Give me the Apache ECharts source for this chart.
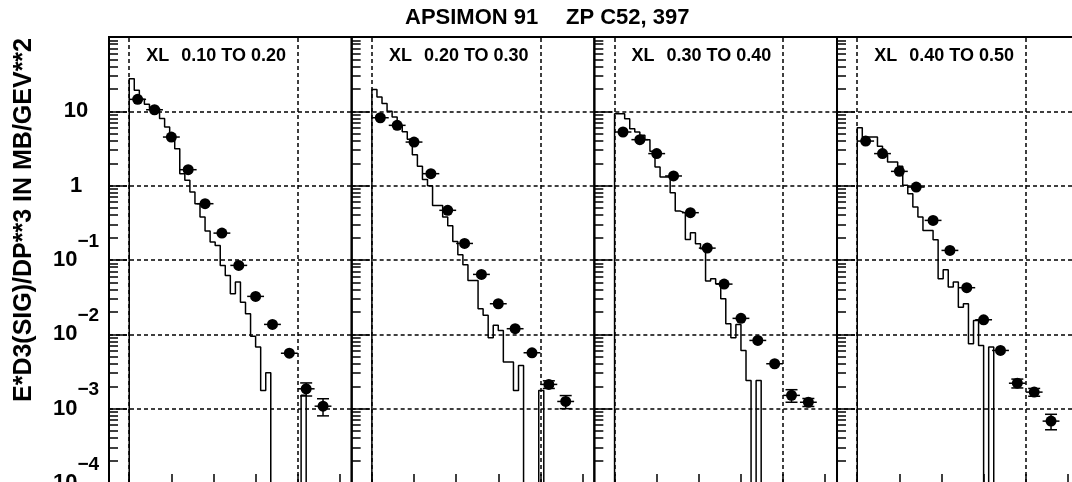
<!DOCTYPE html>
<html>
<head>
<meta charset="utf-8">
<script src="https://cdn.jsdelivr.net/npm/echarts@6/dist/echarts.min.js"></script>
<style>
  html, body { margin: 0; padding: 0; background: #fff; }
  #chart { width: 1072px; height: 482px; }
</style>
</head>
<body>
<div id="chart"></div>
<script>
// ---- texts ----
const TITLE_LEFT = 'APSIMON 91';
const TITLE_RIGHT = 'ZP C52, 397';
const Y_NAME = 'E*D3(SIG)/DP**3 IN MB/GEV**2';
const XL_NAME = 'XL';
const XL_RANGES = ['0.10 TO 0.20', '0.20 TO 0.30', '0.30 TO 0.40', '0.40 TO 0.50'];

// ---- axes ----
const X_TICKS = [0, 0.5, 1, 1.5, 2, 2.5];
const X_GRID = [0, 2];
const Y_MIN = 1e-4;
const Y_MAX = 100;

// ---- measured points: pT (GeV/c), cross section, error ----
const PT = [0.1, 0.3, 0.5, 0.7, 0.9, 1.1, 1.3, 1.5, 1.7, 1.9, 2.1, 2.3];
const PT_HALF = 0.1;

const meas1 = [14.5, 10.5, 4.51, 1.64, 0.572, 0.230, 0.0846, 0.0324, 0.0136, 0.00557, 0.00185, 0.00108];
const err1  = [0, 0, 0, 0, 0, 0, 0, 0, 0, 0, 0.00037, 0.00028];

const meas2 = [8.2, 6.48, 3.86, 1.45, 0.466, 0.167, 0.064, 0.0258, 0.0119, 0.00565, 0.00212, 0.00125];
const err2  = [0, 0, 0, 0, 0, 0, 0, 0, 0, 0, 0.00025, 0.00025];

const meas3 = [5.27, 4.16, 2.70, 1.35, 0.433, 0.1445, 0.0474, 0.0164, 0.00828, 0.00402, 0.00151, 0.00122];
const err3  = [0, 0, 0, 0, 0, 0, 0, 0, 0, 0, 0.00029, 0.00015];

const meas4 = [3.98, 2.70, 1.557, 0.958, 0.341, 0.1346, 0.0424, 0.0157, 0.00607, 0.0022, 0.00167, 0.00068];
const err4  = [0, 0, 0, 0, 0, 0, 0, 0, 0, 0.0003, 0.0002, 0.00016];

// ---- model histograms: bins of 0.06 GeV/c starting at pT = 0 (0 = empty bin) ----
const BIN_WIDTH = 0.06;

const hist1 = [27.5, 19.2, 14.5, 12.5, 10.9, 10.9, 8.0, 6.15, 4.5, 3.15,
               1.45, 1.18, 0.82, 0.573, 0.378, 0.245, 0.174, 0.157, 0.0846, 0.062,
               0.0352, 0.0505, 0.0271, 0.0189, 0.00946, 0.00673, 0.00176, 0.00304, 0, 0,
               0, 0, 0, 0, 0.00151];

const hist2 = [19.6, 15.6, 12.7, 10, 8.4, 6.5, 5.3, 4.2, 2.6, 1.82,
               1.215, 1.0, 0.543, 0.543, 0.378, 0.29, 0.178, 0.118, 0.0865, 0.0531,
               0.0531, 0.0221, 0.018, 0.009, 0.0132, 0.0113, 0.00423, 0.00423, 0.00176, 0.00381,
               0, 0, 0, 0.00176];

const hist3 = [9.3, 9.3, 7.97, 5.85, 5.27, 4.75, 4.16, 2.9, 1.78, 1.305,
               1.305, 0.805, 0.455, 0.43, 0.189, 0.233, 0.166, 0.142, 0.052, 0.056,
               0.048, 0.030, 0.0139, 0.009, 0.0136, 0.00607, 0.0024, 0, 0.0024];

const hist4 = [6.03, 4.51, 4.51, 4.51, 3.4, 2.6, 2.08, 2.08, 1.82, 1.01,
               0.78, 0.515, 0.378, 0.25, 0.25, 0.1876, 0.056, 0.074, 0.0432, 0.0504,
               0.0232, 0.0258, 0.00747, 0.0154, 0.0071, 0, 0.00673];

const PANELS = [
  { meas: meas1, err: err1, hist: hist1 },
  { meas: meas2, err: err2, hist: hist2 },
  { meas: meas3, err: err3, hist: hist3 },
  { meas: meas4, err: err4, hist: hist4 }
];

// ---- layout ----
const GRID_LEFT = 109;
const GRID_W = 242.67;
const GRID_TOP = 37;
const GRID_H = 446;
const X_MIN = -0.24;
const X_MAX = 2.64;
const FONT = '"Liberation Sans", Arial, Helvetica, sans-serif';
const INK = '#000';

// empty bins sit far below the axis minimum so the outline drops to the floor
const FLOOR = 1e-6;

function histOutline(h) {
  const pts = [[0, FLOOR]];
  h.forEach((v, k) => pts.push([Math.round(k * BIN_WIDTH * 100) / 100, v > 0 ? v : FLOOR]));
  pts.push([Math.round(h.length * BIN_WIDTH * 100) / 100, FLOOR]);
  return pts;
}

// minor tick positions (2..9 times each decade), in log10 units
const MINOR_LOG = [];
for (let d = -4; d < 2; d++) {
  for (let m = 2; m <= 9; m++) MINOR_LOG.push(d + Math.log10(m));
}

// decade labels: 10, 1, then 10 with a raised negative exponent
function yLabel(v) {
  const e = Math.round(Math.log10(v));
  if (e === 1) return '{b|10}';
  if (e === 0) return '{b|1}';
  if (e < 0) return '{b|10}{s|\u2212' + (-e) + '}{h| }';
  return '';
}

const grids = [], xAxes = [], yAxes = [], series = [], graphics = [];

PANELS.forEach((p, i) => {
  const left = GRID_LEFT + GRID_W * i;
  grids.push({
    left: left, top: GRID_TOP, width: GRID_W, height: GRID_H,
    containLabel: false, outerBoundsMode: 'none',
    show: true, borderColor: INK, borderWidth: 2, backgroundColor: 'transparent'
  });
  xAxes.push({
    type: 'value', gridIndex: i, min: X_MIN, max: X_MAX, position: 'bottom',
    axisLine: { show: false, onZero: false },
    axisLabel: { show: false },
    splitLine: { show: false },
    axisTick: { show: true, inside: true, length: 9, customValues: X_TICKS,
                lineStyle: { color: INK, width: 1.5 } }
  });
  // decades: long ticks, dotted grid, labels on the first panel
  yAxes.push({
    type: 'log', logBase: 10, gridIndex: i, min: Y_MIN, max: Y_MAX, position: 'left',
    axisLine: { show: false, onZero: false },
    axisTick: { show: true, inside: true, length: 18, lineStyle: { color: INK, width: 1.5 } },
    minorTick: { show: false },
    splitLine: { show: true, lineStyle: { color: INK, width: 1.5, type: [4, 3] } },
    axisLabel: {
      show: i === 0, margin: 33, align: 'center', formatter: yLabel,
      rich: {
        b: { fontFamily: FONT, fontSize: 22, fontWeight: 'bold', color: INK,
             lineHeight: 22, verticalAlign: 'middle' },
        s: { fontFamily: FONT, fontSize: 19, fontWeight: 'bold', color: INK,
             lineHeight: 19, verticalAlign: 'top' },
        h: { fontSize: 1, lineHeight: 56, width: 0 }
      }
    }
  });
  // short ticks inside each decade
  yAxes.push({
    type: 'value', gridIndex: i, min: -4, max: 2, position: 'left',
    axisLine: { show: false, onZero: false }, axisLabel: { show: false }, splitLine: { show: false },
    axisTick: { show: true, inside: true, length: 9, customValues: MINOR_LOG,
                lineStyle: { color: INK, width: 1.5 } }
  });

  const yi = 2 * i;
  series.push({
    type: 'line', xAxisIndex: i, yAxisIndex: yi, step: 'end',
    data: histOutline(p.hist), showSymbol: false, symbol: 'none',
    lineStyle: { color: INK, width: 1.5 }, silent: true, z: 2,
    markLine: {
      silent: true, symbol: ['none', 'none'], label: { show: false },
      lineStyle: { color: INK, width: 1.5, type: [4, 3] },
      data: X_GRID.map(x => ({ xAxis: x }))
    }
  });
  series.push({
    type: 'custom', xAxisIndex: i, yAxisIndex: yi, silent: true, z: 3,
    data: PT.map((x, k) => [x, p.meas[k], p.err[k]]),
    renderItem: (params, api) => {
      const x = api.value(0), y = api.value(1), e = api.value(2);
      const c = api.coord([x, y]);
      const l = api.coord([x - PT_HALF, y]);
      const r = api.coord([x + PT_HALF, y]);
      const st = { stroke: INK, lineWidth: 1.5 };
      const kids = [{ type: 'line', shape: { x1: l[0], y1: c[1], x2: r[0], y2: c[1] }, style: st }];
      if (e > 0) {
        const t = api.coord([x, y + e]), b = api.coord([x, y - e]);
        kids.push({ type: 'line', shape: { x1: c[0], y1: t[1], x2: c[0], y2: b[1] }, style: st });
        kids.push({ type: 'line', shape: { x1: c[0] - 6, y1: t[1], x2: c[0] + 6, y2: t[1] }, style: st });
        kids.push({ type: 'line', shape: { x1: c[0] - 6, y1: b[1], x2: c[0] + 6, y2: b[1] }, style: st });
      }
      return { type: 'group', children: kids };
    }
  });
  series.push({
    type: 'scatter', xAxisIndex: i, yAxisIndex: yi, silent: true, z: 4,
    symbol: 'circle', symbolSize: 11, itemStyle: { color: INK, opacity: 1 },
    data: PT.map((x, k) => [x, p.meas[k]])
  });

  const x0 = left + (0 - X_MIN) / (X_MAX - X_MIN) * GRID_W;
  graphics.push({ type: 'text', x: x0 + 17, y: 56,
    style: { text: XL_NAME, font: 'bold 18px ' + FONT, fill: INK, align: 'left', verticalAlign: 'middle' } });
  graphics.push({ type: 'text', x: x0 + 52, y: 56,
    style: { text: XL_RANGES[i], font: 'bold 18px ' + FONT, fill: INK, align: 'left', verticalAlign: 'middle' } });
});

graphics.push({ type: 'text', x: 405, y: 18,
  style: { text: TITLE_LEFT, font: 'bold 22px ' + FONT, fill: INK, align: 'left', verticalAlign: 'middle' } });
graphics.push({ type: 'text', x: 566, y: 18,
  style: { text: TITLE_RIGHT, font: 'bold 22px ' + FONT, fill: INK, align: 'left', verticalAlign: 'middle' } });
graphics.push({ type: 'text', x: 24, y: 220, rotation: Math.PI / 2,
  style: { text: Y_NAME, font: 'bold 25px ' + FONT, fill: INK, align: 'center', verticalAlign: 'middle' } });

const chart = echarts.init(document.getElementById('chart'));
chart.setOption({
  animation: false,
  backgroundColor: '#fff',
  grid: grids,
  xAxis: xAxes,
  yAxis: yAxes,
  series: series,
  graphic: graphics
});
</script>
</body>
</html>
